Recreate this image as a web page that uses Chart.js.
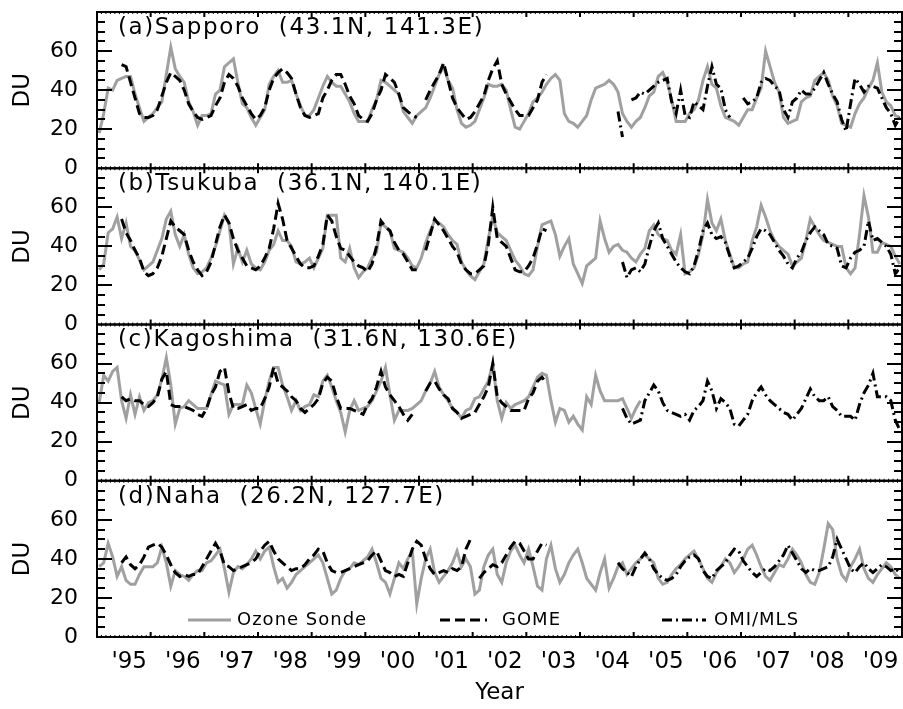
<!DOCTYPE html>
<html><head><meta charset="utf-8">
<script src="https://cdn.jsdelivr.net/npm/chart.js@4.4.1/dist/chart.umd.min.js"></script>
<style>html,body{margin:0;padding:0;background:#fff;}canvas{display:block;}</style>
</head><body>
<canvas id="c" width="903" height="709"></canvas>
<script>
// ---------- data ----------
const firstYear = 1995, lastYear = 2010;
const yearLabels = ["'95","'96","'97","'98","'99","'00","'01","'02","'03","'04","'05","'06","'07","'08","'09"];
const yTickValues = [0, 20, 40, 60];
const yMin = 0, yMax = 80, yMinorStep = 5, yMajorStep = 20;
const stationTitles = ['(a)Sapporo  (43.1N, 141.3E)', '(b)Tsukuba  (36.1N, 140.1E)', '(c)Kagoshima  (31.6N, 130.6E)', '(d)Naha  (26.2N, 127.7E)'];
const seriesNames = ['Ozone Sonde', 'GOME', 'OMI/MLS'];

// month index (0 = Jan 1995) of first value of each series
const sondeStart = [0, 0, 0, 0];
const gomeStart = [5, 5, 5, 5];
const omiStart = [116, 117, 117, 116];

const sapporoSonde = [
18,28,41,40,45,46,47,47,38,31,24,26,
28,31,34,48,62,51,47,44,34,29,22,27,
27,28,38,40,52,54,56,44,33,31,26,22,
26,30,43,47,50,44,44,45,38,32,27,27,
30,36,42,47,44,42,42,38,34,28,24,24,
24,30,35,45,44,42,40,38,29,26,23,27,
29,31,36,42,48,52,45,41,30,23,21,22,
24,30,36,43,42,42,43,40,30,21,20,24,
28,34,36,39,43,46,48,45,28,24,23,21,
24,27,35,41,42,43,45,43,39,28,24,21,
24,26,31,37,39,47,49,44,35,24,24,24,
28,30,35,45,52,43,41,32,26,25,24,22,
26,30,30,36,41,60,52,44,39,26,23,24,
25,34,36,37,45,47,49,45,37,32,23,22,
21,28,33,36,41,45,54,39,34,32,27,26];
const sapporoGome = [
53,52,44,36,28,26,26,
27,30,37,44,49,47,45,40,33,29,26,25,
26,27,32,36,44,48,46,42,36,32,28,25,
27,31,40,46,49,51,49,46,38,31,27,26,
27,28,36,40,45,48,48,43,37,33,27,25,
24,28,35,40,48,46,44,38,31,29,27,26,
null,35,40,44,48,54,45,36,31,28,25,26,
29,33,37,45,51,55,43,38,34,30,27,27,
27,31,35,44,48];
const sapporoOmi = [
29,16,null,35,
36,39,38,40,42,44,45,46,34,28,40,27,
26,34,32,30,42,52,43,41,30,26,null,null,
36,33,34,36,44,46,45,42,40,30,26,34,
36,40,38,38,41,45,49,43,38,34,25,19,
33,46,43,39,42,42,41,36,31,28,22,26];

const tsukubaSonde = [
28,31,47,49,55,44,52,40,38,33,28,30,
32,38,44,54,58,46,40,46,36,29,26,27,
29,34,40,48,56,52,31,39,32,38,31,29,
28,32,38,41,48,43,43,40,32,31,32,34,
29,34,39,56,56,56,34,32,39,29,24,27,
29,34,37,52,50,48,39,38,37,34,30,29,
34,42,48,53,52,50,46,43,41,32,28,25,
23,27,31,44,55,47,45,43,38,33,30,26,
25,28,40,51,52,53,46,35,40,44,31,26,
21,30,32,34,53,44,37,40,41,38,37,34,
32,36,39,48,51,46,44,43,38,36,46,26,
27,29,36,46,64,52,48,54,43,36,29,29,
31,32,43,50,61,55,48,43,40,38,36,30,
32,34,43,54,50,46,43,42,41,40,40,29,
26,29,46,66,55,37,37,42,41,40,35,31];
const tsukubaGome = [
54,47,43,38,34,27,25,
26,29,35,44,53,50,48,46,38,32,28,25,
27,32,41,50,56,52,44,38,34,30,29,28,
30,34,39,49,62,54,43,39,35,31,29,29,
30,35,41,56,53,45,39,38,35,32,30,29,
27,31,40,53,50,48,42,38,36,32,28,28,
null,38,46,54,51,48,44,40,37,31,28,26,
26,28,30,41,60,44,42,40,34,28,27,27,
30,34,41,49,48];
const tsukubaOmi = [
32,24,28,
29,27,31,40,48,52,44,40,36,32,29,27,
26,30,38,48,52,46,44,45,42,35,29,30,
32,34,39,45,49,48,46,42,38,35,31,29,
34,37,43,47,50,48,46,41,40,39,30,29,
34,37,38,40,53,43,44,42,40,36,26,29];

const kagoshimaSonde = [
40,54,51,56,58,41,32,44,34,43,36,40,
41,44,52,63,49,29,37,38,41,39,37,37,
37,44,51,50,49,34,39,39,39,49,45,37,
29,41,51,58,58,49,43,36,41,36,38,39,
44,43,51,54,48,41,35,25,36,41,36,37,
38,41,46,51,58,44,31,36,36,36,37,39,
41,46,50,56,48,44,41,37,35,32,36,37,
42,43,47,51,60,41,32,40,37,39,40,41,
43,48,53,55,54,41,30,37,36,30,33,29,
26,43,39,54,46,41,41,41,41,42,37,32,
37,41];
const kagoshimaGome = [
43,41,42,41,41,39,38,
40,43,52,56,39,38,38,38,37,36,34,33,
37,44,48,56,58,45,37,37,38,39,36,37,
37,42,48,58,50,48,46,43,41,37,35,37,
39,42,50,53,51,43,37,37,37,36,35,34,
39,42,48,56,48,44,41,38,34,31,34,null,
null,46,50,51,47,44,42,37,35,32,33,34,
35,39,43,48,60,43,40,38,36,36,36,36,
42,45,51,53,50];
const kagoshimaOmi = [
37,32,29,
30,31,41,45,49,46,40,36,35,34,33,34,
31,36,38,41,51,46,37,42,40,37,29,28,
31,34,41,45,48,44,41,39,37,35,34,31,
34,37,42,47,43,41,41,43,38,36,33,33,
33,31,39,45,49,55,43,43,43,41,31,26];

const nahaSonde = [
36,38,48,41,31,36,29,27,27,32,36,36,
36,38,46,38,26,34,32,31,29,32,34,34,
38,39,42,45,35,23,33,36,35,37,40,44,
40,44,46,36,28,30,25,28,32,34,36,38,
40,42,38,30,22,24,30,34,35,38,37,39,
41,45,38,30,28,22,30,38,35,40,44,17,
30,40,45,33,28,31,34,38,44,36,40,36,
22,24,36,42,45,32,28,38,44,47,42,38,
45,36,26,24,40,47,35,28,32,38,42,45,
38,30,27,24,33,40,25,30,36,38,32,35,
38,40,42,40,38,30,27,28,32,35,37,40,
42,44,40,35,30,28,33,36,40,38,33,36,
40,45,47,42,36,31,29,33,37,36,40,45,
42,38,32,28,27,33,45,58,55,40,32,29,
36,40,45,35,30,28,32,35,38,36,32,30];
const nahaGome = [
38,41,37,35,37,41,46,
47,48,46,42,37,33,31,32,31,32,32,36,
40,44,48,44,37,36,34,35,36,37,38,40,
44,47,49,44,40,38,36,34,35,35,37,40,
42,45,44,38,34,33,33,34,35,36,37,38,
39,42,44,39,34,33,31,32,31,38,45,49,
47,40,35,32,33,34,33,35,34,36,45,50,
null,30,33,35,37,36,38,42,46,49,48,44,
40,40,44,48,47];
const nahaOmi = [
38,35,33,31,
36,40,43,40,35,32,30,29,30,32,36,39,
41,42,40,34,31,30,34,36,38,42,45,44,
39,36,33,31,33,35,34,36,39,42,47,43,
39,35,33,35,34,34,35,36,41,50,45,40,
35,33,36,38,35,33,35,37,36,34,35,33];

const sondeSeries = [sapporoSonde, tsukubaSonde, kagoshimaSonde, nahaSonde];
const gomeSeries = [sapporoGome, tsukubaGome, kagoshimaGome, nahaGome];
const omiSeries = [sapporoOmi, tsukubaOmi, kagoshimaOmi, nahaOmi];

// ---------- chart ----------
const FONT = "'DejaVu Sans', sans-serif";
Chart.defaults.font.family = FONT;
Chart.defaults.color = '#000';

const panelIds = ['ya', 'yb', 'yc', 'yd'];
const GRAY = '#a0a0a0';
const styles = [
  {color: GRAY, dash: []},
  {color: '#000', dash: [10, 5]},
  {color: '#000', dash: [10, 4, 2, 4]}
];

function toPoints(values, start) {
  return values.map((v, i) => ({x: firstYear + (start + i + 0.5) / 12, y: v}));
}

const datasets = [];
panelIds.forEach((id, p) => {
  [[sondeSeries[p], sondeStart[p]], [gomeSeries[p], gomeStart[p]], [omiSeries[p], omiStart[p]]].forEach(([vals, st], k) => {
    datasets.push({
      label: seriesNames[k],
      data: toPoints(vals, st),
      yAxisID: id,
      borderColor: styles[k].color,
      borderDash: styles[k].dash,
      borderWidth: 3,
      pointRadius: 0,
      tension: 0,
      spanGaps: false,
      fill: false,
      order: 3 - k
    });
  });
});

const scales = {
  x: {
    type: 'linear', position: 'bottom', min: firstYear, max: lastYear,
    afterBuildTicks: s => { s.ticks = yearLabels.map((l, i) => ({value: firstYear + i + 0.6})); },
    ticks: {autoSkip: false, maxRotation: 0, minRotation: 0, padding: 11, font: {size: 23}, color: '#000',
            callback: (v, i) => yearLabels[i]},
    grid: {display: false, drawTicks: false},
    border: {display: false},
    title: {display: true, text: 'Year', font: {size: 23}, color: '#000', padding: {top: 0, bottom: 2}},
    afterFit: s => { s.height = 72; s.paddingLeft = 0; s.paddingRight = 0; }
  }
};
panelIds.forEach((id, p) => {
  scales[id] = {
    type: 'linear', position: 'left', stack: 'panels', stackWeight: 1, weight: 4 - p,
    min: yMin, max: yMax,
    afterBuildTicks: s => { s.ticks = yTickValues.map(v => ({value: v})); },
    ticks: {autoSkip: false, padding: 19, font: {size: 22}, color: '#000', callback: v => String(v)},
    grid: {display: false, drawTicks: false},
    border: {display: false},
    title: {display: true, text: 'DU', font: {size: 23}, color: '#000', padding: {top: 9, bottom: 0}},
    afterFit: s => { s.width = 97; s.paddingTop = 0; s.paddingBottom = 0; }
  };
});

const framePlugin = {
  id: 'frame',
  afterDatasetsDraw(chart) {
    const {ctx, chartArea: ca, scales: sc} = chart;
    const xs = sc.x;
    ctx.save();
    ctx.strokeStyle = '#000';
    ctx.lineCap = 'butt';
    panelIds.forEach(id => {
      const s = sc[id];
      const top = s.top, bot = s.bottom;
      ctx.lineWidth = 2;
      for (let v = yMin + yMinorStep; v < yMax; v += yMinorStep) {
        const py = Math.round(s.getPixelForValue(v));
        const len = v % yMajorStep === 0 ? 15 : 8;
        ctx.beginPath();
        ctx.moveTo(ca.left, py); ctx.lineTo(ca.left + len, py);
        ctx.moveTo(ca.right, py); ctx.lineTo(ca.right - len, py);
        ctx.stroke();
      }
      const months = (lastYear - firstYear) * 12;
      for (let k = 1; k < months; k++) {
        const px = xs.getPixelForValue(firstYear + k / 12);
        const major = k % 12 === 0;
        const len = major ? 5 : 2;
        ctx.lineWidth = major ? 2 : 1;
        ctx.beginPath();
        ctx.moveTo(px, top); ctx.lineTo(px, top + len);
        ctx.moveTo(px, bot); ctx.lineTo(px, bot - len);
        ctx.stroke();
      }
      ctx.lineWidth = 2;
      ctx.strokeRect(ca.left, top, ca.right - ca.left, bot - top);
    });
    ctx.restore();
  },
  afterDraw(chart) {
    const {ctx, chartArea: ca, scales: sc} = chart;
    ctx.save();
    ctx.fillStyle = '#000';
    ctx.textBaseline = 'middle';
    ctx.textAlign = 'left';
    // panel titles
    ctx.font = '23px ' + FONT;
    if ('letterSpacing' in ctx) ctx.letterSpacing = '1.6px';
    panelIds.forEach((id, p) => {
      ctx.fillText(stationTitles[p], ca.left + 21, sc[id].top + 16);
    });
    // legend inside bottom panel
    const ly = sc[panelIds[3]].bottom - 17;
    ctx.font = '18px ' + FONT;
    if ('letterSpacing' in ctx) ctx.letterSpacing = '1px';
    const items = [
      {x0: 188, x1: 231, tx: 237},
      {x0: 440, x1: 487, tx: 502},
      {x0: 662, x1: 706, tx: 714}
    ];
    items.forEach((it, k) => {
      ctx.save();
      ctx.strokeStyle = styles[k].color;
      ctx.lineWidth = 3;
      ctx.setLineDash(styles[k].dash);
      ctx.beginPath(); ctx.moveTo(it.x0, ly); ctx.lineTo(it.x1, ly); ctx.stroke();
      ctx.restore();
      ctx.fillText(seriesNames[k], it.tx, ly);
    });
    ctx.restore();
  }
};

new Chart(document.getElementById('c'), {
  type: 'line',
  data: {datasets},
  options: {
    responsive: false,
    animation: false,
    devicePixelRatio: 1,
    layout: {padding: {top: 12, right: 1, bottom: 0, left: 0}},
    plugins: {legend: {display: false}, tooltip: {enabled: false}},
    scales
  },
  plugins: [framePlugin]
});
</script>
</body></html>
